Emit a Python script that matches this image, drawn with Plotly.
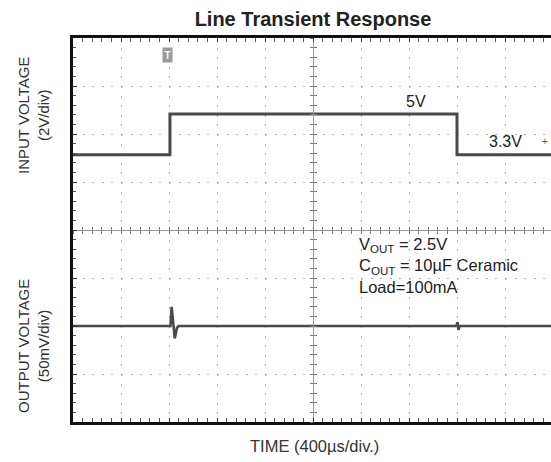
import plotly.graph_objects as go

# Time axis: 400 µs/div, 10 divisions
time_div_us = 400
# Input voltage trace (V)
vin_t = [0, 808, 808, 3200, 3200, 4000]
vin_v = [3.3, 3.3, 5.0, 5.0, 3.3, 3.3]
# Output voltage deviation from 2.5 V (mV)
vout_t = [0, 812, 822, 832, 848, 866, 880, 3196, 3204, 3212, 3222, 4000]
vout_mv = [0, 0, 20, 4, -13, -2, 0, 0, 4, -4, 0, 0]

FONT = "Liberation Sans, Arial, sans-serif"
TRACE = "#4a4a4a"
GRID = "#b0b0b0"

x_end = 4000 * 478 / 480  # right edge is cut off just before 10 divisions
vin_range = [-7.8333, 8.1667]
vout_range = [-100, 300]

fig = go.Figure()
fig.add_trace(go.Scatter(x=vin_t, y=vin_v, mode="lines",
                         line=dict(color=TRACE, width=3), yaxis="y", showlegend=False))
fig.add_trace(go.Scatter(x=vout_t, y=vout_mv, mode="lines",
                         line=dict(color=TRACE, width=2.6), yaxis="y2", showlegend=False))

common_x = dict(range=[0, x_end], showticklabels=False, automargin=False)
fig.update_layout(
    width=551, height=462,
    margin=dict(l=73, r=0, t=38, b=40, autoexpand=False),
    paper_bgcolor="white", plot_bgcolor="white",
    font=dict(family=FONT, color="#222"),
    title=dict(text="<b>Line Transient Response</b>", x=313 / 551, xanchor="center",
               y=1 - 19 / 462, yanchor="middle", yref="container",
               font=dict(size=20, family=FONT, color="#222")),
    xaxis=dict(**common_x, tick0=0, dtick=time_div_us, showgrid=True, gridcolor=GRID,
               griddash="2px,7.6px", gridwidth=1, zeroline=False,
               showline=True, linecolor="#111", linewidth=2.5, mirror="allticks",
               ticks="inside", ticklen=4, tickcolor="#333",
               minor=dict(dtick=80, ticks="inside", ticklen=3, tickcolor="#555", showgrid=False)),
    yaxis=dict(range=vin_range, tick0=0.1667, dtick=2, showticklabels=False, automargin=False,
               showgrid=True, gridcolor=GRID, griddash="2px,7.6px", gridwidth=1, zeroline=False,
               showline=True, linecolor="#111", linewidth=2.5, mirror=False,
               ticks="inside", ticklen=4, tickcolor="#333",
               minor=dict(tick0=0.1667, dtick=0.4, ticks="inside", ticklen=3, tickcolor="#555", showgrid=False)),
    yaxis2=dict(range=vout_range, overlaying="y", showticklabels=False, showgrid=False, automargin=False,
                zeroline=False, showline=False, ticks=""),
    # centre graticule lines with cross ticks
    xaxis2=dict(**common_x, overlaying="x", anchor="free", position=0.5, side="bottom",
                showline=True, linecolor="#999", linewidth=1, showgrid=False, zeroline=False,
                ticks="inside", tick0=0, dtick=80, ticklen=3, tickcolor="#777"),
    xaxis3=dict(**common_x, overlaying="x", anchor="free", position=0.5, side="bottom",
                showline=False, showgrid=False, zeroline=False,
                ticks="outside", tick0=0, dtick=80, ticklen=3, tickcolor="#777"),
    yaxis3=dict(range=vin_range, overlaying="y", anchor="free", position=2000 / x_end, side="left",
                showline=True, linecolor="#999", linewidth=1, showgrid=False, zeroline=False, automargin=False,
                showticklabels=False, ticks="inside", tick0=0.1667, dtick=0.4, ticklen=3, tickcolor="#777"),
    yaxis4=dict(range=vin_range, overlaying="y", anchor="free", position=2000 / x_end, side="left",
                showline=False, showgrid=False, zeroline=False, automargin=False,
                showticklabels=False, ticks="outside", tick0=0.1667, dtick=0.4, ticklen=3, tickcolor="#777"),
)

# invisible helper traces so the centre graticule axes get drawn
for xa, ya in [("x2", "y"), ("x3", "y"), ("x", "y3"), ("x", "y4")]:
    fig.add_trace(go.Scatter(x=[0], y=[0], xaxis=xa, yaxis=ya, mode="markers",
                             marker=dict(opacity=0), showlegend=False, hoverinfo="skip"))

C = dict(xanchor="center", yanchor="middle", showarrow=False)
anns = [
    dict(text="INPUT VOLTAGE<br>(2V/div)", xref="paper", yref="paper", x=(33 - 73) / 478, y=(422 - 115) / 384,
         textangle=-90, font=dict(size=15, family=FONT, color="#333"), **C),
    dict(text="OUTPUT VOLTAGE<br>(50mV/div)", xref="paper", yref="paper", x=(33 - 73) / 478, y=(422 - 346) / 384,
         textangle=-90, font=dict(size=15, family=FONT, color="#333"), **C),
    dict(text="TIME (400µs/div.)", xref="paper", yref="paper", x=(314 - 73) / 478, y=-(446 - 422) / 384,
         font=dict(size=16.5, family=FONT, color="#333"), **C),
    dict(text="5V", x=2000 + (416 - 313) / 48 * 400, y=5.0, yref="y", xref="x", yshift=13,
         font=dict(size=16, family=FONT, color="#222"), **C),
    dict(text="3.3V", x=2000 + (505 - 313) / 48 * 400, y=3.3, yref="y", xref="x", yshift=13,
         font=dict(size=16, family=FONT, color="#222"), **C),
    dict(text="V<sub>OUT</sub> = 2.5V<br>C<sub>OUT</sub> = 10µF Ceramic<br>Load=100mA",
         xref="paper", yref="paper", x=(357 - 73) / 478, y=(422 - 233) / 384,
         xanchor="left", yanchor="top", align="left", showarrow=False,
         font=dict(size=16.5, family=FONT, color="#222")),
    dict(text="<b>T</b>", xref="x", yref="y", x=790, y=7.45,
         bgcolor="#9a9a9a", font=dict(size=10, color="white", family=FONT), borderpad=1.5, **C),
    dict(text="+", xref="paper", yref="paper", x=(545 - 73) / 478, y=(422 - 141) / 384,
         font=dict(size=10, color="#555", family=FONT), **C),
]
fig.update_layout(annotations=anns)

fig.write_html("out.html", config={"displayModeBar": False},
               post_script="document.body.style.margin='0';document.body.style.overflow='hidden';")
